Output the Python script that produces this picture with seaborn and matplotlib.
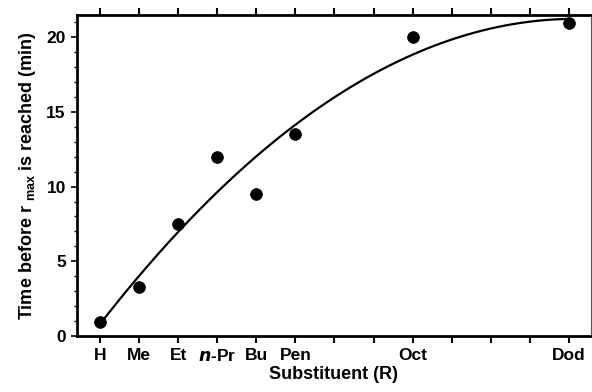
import numpy as np
import pandas as pd
import matplotlib
matplotlib.use("Agg")
import matplotlib.pyplot as plt
import seaborn as sns
from matplotlib.ticker import MultipleLocator

# Substituent chain length (carbon count) and measured time
substituents = ["H", "Me", "Et", "$\\it{n}$-Pr", "Bu", "Pen", "Oct", "Dod"]
carbons = [0, 1, 2, 3, 4, 5, 8, 12]
time_min = [0.95, 3.25, 7.5, 12.0, 9.5, 13.5, 20.0, 20.95]

df = pd.DataFrame({"Carbons": carbons, "Time": time_min})

sns.set_style("ticks")
plt.rcParams["font.family"] = ["Liberation Sans", "DejaVu Sans"]
plt.rcParams["font.weight"] = "bold"
plt.rcParams["mathtext.default"] = "bf"
for key in ["text.color", "axes.labelcolor", "xtick.color", "ytick.color"]:
    plt.rcParams[key] = "black"

fig = plt.figure(figsize=(5.92, 3.92), dpi=100)
ax = fig.add_axes([0.130, 0.143, 0.868, 0.819])

# quadratic fit through the points
sns.regplot(data=df, x="Carbons", y="Time", order=2, ci=None, truncate=True,
            scatter=False, line_kws=dict(color="black", lw=1.6), ax=ax)
sns.scatterplot(data=df, x="Carbons", y="Time", color="black", s=70,
                edgecolor="black", zorder=3, ax=ax)

ax.set_xlim(-0.59, 12.56)
ax.set_ylim(0, 21.5)
ax.set_xticks(carbons)
ax.set_xticklabels(substituents, fontsize=12.5, fontweight="bold")
ax.xaxis.set_minor_locator(MultipleLocator(1))
ax.yaxis.set_major_locator(MultipleLocator(5))
ax.yaxis.set_minor_locator(MultipleLocator(1))
for lab in ax.get_yticklabels():
    lab.set_fontsize(12.5)
    lab.set_fontweight("bold")

ax.tick_params(axis="x", which="both", top=True, direction="out", length=5, width=1.5, pad=4)
ax.tick_params(axis="x", which="minor", length=5)
ax.tick_params(axis="y", which="major", direction="out", length=4, width=1.2, pad=4)
ax.tick_params(axis="y", which="minor", direction="out", length=2.5, width=1.0)

for side in ["left", "bottom", "top"]:
    ax.spines[side].set_linewidth(2)
    ax.spines[side].set_color("black")
ax.spines["right"].set_linewidth(0.8)
ax.spines["right"].set_color("#555555")

ax.set_xlabel("Substituent (R)", fontsize=13, fontweight="bold", labelpad=1)
ax.set_ylabel("Time before r $_{\\mathregular{max}}$ is reached (min)",
              fontsize=13, fontweight="bold", labelpad=6)

fig.savefig("out.png", dpi=100)
